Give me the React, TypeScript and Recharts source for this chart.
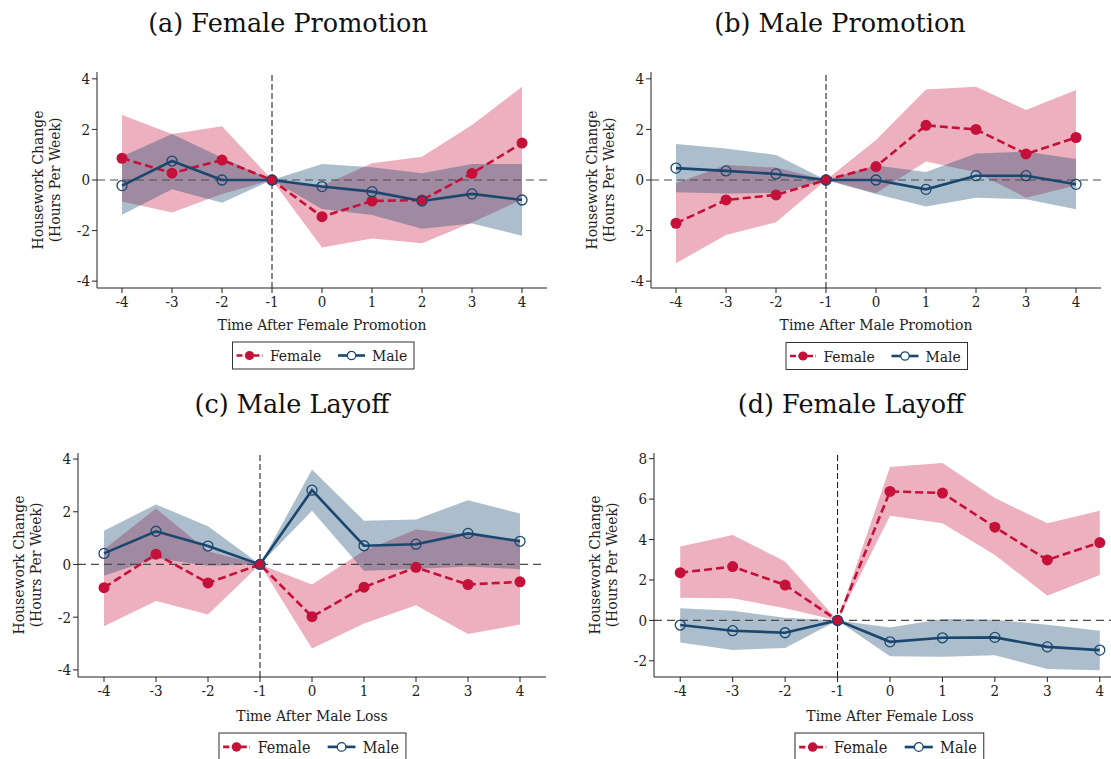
import React from 'react';
import { ComposedChart, Area, Line, XAxis, YAxis, ReferenceLine } from 'recharts';

// Event time (years relative to the event)
const periods = [-4, -3, -2, -1, 0, 1, 2, 3, 4];

// (a) Female Promotion
const aFemale = [0.86, 0.27, 0.79, 0, -1.45, -0.83, -0.79, 0.26, 1.46];
const aFemaleLo = [-0.85, -1.28, -0.55, 0, -2.67, -2.31, -2.5, -1.68, -0.77];
const aFemaleHi = [2.57, 1.82, 2.13, 0, -0.23, 0.66, 0.92, 2.17, 3.69];
const aMale = [-0.22, 0.75, 0, 0, -0.26, -0.46, -0.83, -0.55, -0.79];
const aMaleLo = [-1.37, -0.37, -0.9, 0, -1.15, -1.38, -1.93, -1.72, -2.2];
const aMaleHi = [0.93, 1.82, 0.88, 0, 0.63, 0.5, 0.27, 0.63, 0.63];

// (b) Male Promotion
const bFemale = [-1.71, -0.79, -0.59, 0, 0.53, 2.16, 2.0, 1.03, 1.68];
const bFemaleLo = [-3.29, -2.17, -1.67, 0, -0.52, 0.73, 0.31, -0.7, -0.22];
const bFemaleHi = [-0.13, 0.59, 0.49, 0, 1.58, 3.58, 3.69, 2.77, 3.56];
const bMale = [0.47, 0.36, 0.24, 0, 0, -0.37, 0.17, 0.17, -0.17];
const bMaleLo = [-0.48, -0.53, -0.51, 0, -0.55, -1.05, -0.7, -0.76, -1.16];
const bMaleHi = [1.42, 1.25, 0.99, 0, 0.57, 0.32, 1.05, 1.12, 0.83];

// (c) Male Layoff
const cFemale = [-0.88, 0.39, -0.7, 0, -1.98, -0.86, -0.11, -0.76, -0.66];
const cFemaleLo = [-2.34, -1.39, -1.9, 0, -3.19, -2.24, -1.55, -2.64, -2.28];
const cFemaleHi = [0.58, 2.12, 0.5, 0, -0.76, 0.52, 1.33, 1.12, 0.96];
const cMale = [0.42, 1.26, 0.7, 0, 2.82, 0.71, 0.77, 1.18, 0.88];
const cMaleLo = [-0.43, 0.24, -0.05, 0, 2.04, -0.24, -0.17, -0.08, -0.18];
const cMaleHi = [1.28, 2.28, 1.45, 0, 3.6, 1.66, 1.71, 2.44, 1.93];

// (d) Female Layoff
const dFemale = [2.36, 2.66, 1.75, 0, 6.38, 6.3, 4.61, 2.99, 3.85];
const dFemaleLo = [1.12, 1.09, 0.6, 0, 5.17, 4.81, 3.24, 1.22, 2.25];
const dFemaleHi = [3.65, 4.23, 2.91, 0, 7.59, 7.79, 6.05, 4.81, 5.42];
const dMale = [-0.23, -0.51, -0.61, 0, -1.06, -0.86, -0.84, -1.31, -1.47];
const dMaleLo = [-1.09, -1.47, -1.36, 0, -1.77, -1.8, -1.72, -2.41, -2.46];
const dMaleHi = [0.6, 0.48, 0.13, 0, -0.35, 0.07, 0.03, -0.21, -0.51];

const ticksFour = [-4, -2, 0, 2, 4];
const ticksEight = [-2, 0, 2, 4, 6, 8];

const RED = '#C51039';
const NAVY = '#1A476F';
const INK = '#222222';
const SERIF = '"DejaVu Serif Condensed", "DejaVu Serif", serif';
const TITLE_SERIF = '"DejaVu Serif", serif';
const AXIS_FS = 15.5;
const TICK_FS = 15;

function makeRows(f: number[], fLo: number[], fHi: number[], m: number[], mLo: number[], mHi: number[]) {
  return periods.map((t, i) => ({
    t,
    female: f[i],
    femaleBand: [fLo[i], fHi[i]],
    male: m[i],
    maleBand: [mLo[i], mHi[i]],
  }));
}

type PanelProps = {
  left: number;
  top: number;
  width: number;
  height: number;
  margin: { top: number; right: number; bottom: number; left: number };
  yAxisWidth: number;
  yDomain: number[];
  yTicks: number[];
  xTitle: string;
  xTitleDy: number;
  rows: ReturnType<typeof makeRows>;
};

function Panel(p: PanelProps) {
  const yLabel = (props: any) => {
    const vb = props.viewBox;
    const axisX = vb.x + vb.width;
    const cy = vb.y + vb.height / 2;
    const x1 = axisX - 54.5;
    const x2 = axisX - 37.5;
    return (
      <g>
        <text x={x1} y={cy} transform={`rotate(-90, ${x1}, ${cy})`} textAnchor="middle"
          style={{ fontFamily: SERIF, fontSize: AXIS_FS }} fill={INK}>Housework Change</text>
        <text x={x2} y={cy} transform={`rotate(-90, ${x2}, ${cy})`} textAnchor="middle"
          style={{ fontFamily: SERIF, fontSize: AXIS_FS }} fill={INK}>(Hours Per Week)</text>
      </g>
    );
  };
  const xLabel = (props: any) => {
    const vb = props.viewBox;
    return (
      <text x={vb.x + vb.width / 2} y={vb.y + p.xTitleDy} textAnchor="middle"
        style={{ fontFamily: SERIF, fontSize: AXIS_FS }} fill={INK}>{p.xTitle}</text>
    );
  };
  const tickStyle = { fontSize: TICK_FS, fill: INK, style: { fontFamily: SERIF } };
  return (
    <div style={{ position: 'absolute', left: p.left, top: p.top }}>
      <ComposedChart width={p.width} height={p.height} data={p.rows} margin={p.margin}>
        <XAxis type="number" dataKey="t" domain={[-4.5, 4.5]} ticks={periods} interval={0}
          allowDataOverflow height={50} tickSize={5} tickMargin={3}
          axisLine={{ stroke: INK }} tickLine={{ stroke: INK }}
          tick={tickStyle} label={xLabel} />
        <YAxis type="number" domain={p.yDomain} ticks={p.yTicks} interval={0}
          allowDataOverflow width={p.yAxisWidth} tickSize={5} tickMargin={2}
          axisLine={{ stroke: INK }} tickLine={{ stroke: INK }}
          tick={tickStyle} label={yLabel} />
        <ReferenceLine y={0} stroke="#4a4a4a" strokeDasharray="8 5" strokeWidth={1.2} />
        <ReferenceLine x={-1} stroke="#111" strokeDasharray="6 3" strokeWidth={1} />
        <Area dataKey="femaleBand" type="linear" stroke="none" fill={RED} fillOpacity={0.33}
          isAnimationActive={false} activeDot={false} />
        <Line dataKey="female" type="linear" stroke={RED} strokeWidth={2.6} strokeDasharray="8 4"
          dot={{ r: 5.5, fill: RED, stroke: 'none' }} activeDot={false} isAnimationActive={false} />
        <Area dataKey="maleBand" type="linear" stroke="none" fill={NAVY} fillOpacity={0.36}
          isAnimationActive={false} activeDot={false} />
        <Line dataKey="male" type="linear" stroke={NAVY} strokeWidth={2.6}
          dot={{ r: 5, fill: 'none', stroke: NAVY, strokeWidth: 1.3 }} activeDot={false}
          isAnimationActive={false} />
      </ComposedChart>
    </div>
  );
}

function LegendBox({ x, y, s }: { x: number; y: number; s: number }) {
  return (
    <g transform={`translate(${x}, ${y}) scale(${s})`}>
      <rect x={0} y={0} width={181.5} height={27} fill="#fff" stroke="#333" strokeWidth={1} />
      <line x1={4} x2={30} y1={13.5} y2={13.5} stroke={RED} strokeWidth={2.6} strokeDasharray="6 2.5 0 0" />
      <circle cx={17} cy={13.5} r={4.6} fill={RED} />
      <text x={37.5} y={19} style={{ fontFamily: SERIF, fontSize: 15.5 }} fill={INK}>Female</text>
      <line x1={105.5} x2={132.5} y1={13.5} y2={13.5} stroke={NAVY} strokeWidth={2.6} />
      <circle cx={119} cy={13.5} r={4.2} fill="#fff" stroke={NAVY} strokeWidth={1.2} />
      <text x={139.5} y={19} style={{ fontFamily: SERIF, fontSize: 15.5 }} fill={INK}>Male</text>
    </g>
  );
}

function Title({ cx, y, text }: { cx: number; y: number; text: string }) {
  return (
    <text x={cx} y={y} textAnchor="middle" style={{ fontFamily: TITLE_SERIF, fontSize: 25.5 }}
      fill="#111">{text}</text>
  );
}

export default function App() {
  const rowsA = makeRows(aFemale, aFemaleLo, aFemaleHi, aMale, aMaleLo, aMaleHi);
  const rowsB = makeRows(bFemale, bFemaleLo, bFemaleHi, bMale, bMaleLo, bMaleHi);
  const rowsC = makeRows(cFemale, cFemaleLo, cFemaleHi, cMale, cMaleLo, cMaleHi);
  const rowsD = makeRows(dFemale, dFemaleLo, dFemaleHi, dMale, dMaleLo, dMaleHi);

  return (
    <div style={{ position: 'absolute', left: 0, top: 0, width: 1111, height: 759, overflow: 'hidden', background: '#fff' }}>
      <Panel left={0} top={0} width={560} height={345}
        margin={{ top: 72, right: 13, bottom: 7, left: 0 }} yAxisWidth={97}
        yDomain={[-4.27, 4.27]} yTicks={ticksFour}
        xTitle="Time After Female Promotion" xTitleDy={42} rows={rowsA} />
      <Panel left={555} top={0} width={556} height={345}
        margin={{ top: 72, right: 10, bottom: 7, left: 0 }} yAxisWidth={96}
        yDomain={[-4.27, 4.27]} yTicks={ticksFour}
        xTitle="Time After Male Promotion" xTitleDy={42} rows={rowsB} />
      <Panel left={0} top={380} width={560} height={354}
        margin={{ top: 73, right: 14, bottom: 7, left: 0 }} yAxisWidth={78}
        yDomain={[-4.27, 4.23]} yTicks={ticksFour}
        xTitle="Time After Male Loss" xTitleDy={44} rows={rowsC} />
      <Panel left={555} top={380} width={571} height={354}
        margin={{ top: 73, right: 0, bottom: 7, left: 0 }} yAxisWidth={99}
        yDomain={[-2.8, 8.28]} yTicks={ticksEight}
        xTitle="Time After Female Loss" xTitleDy={44} rows={rowsD} />
      <svg width={1111} height={759} style={{ position: 'absolute', left: 0, top: 0, pointerEvents: 'none' }}>
        <Title cx={288} y={32} text="(a) Female Promotion" />
        <Title cx={840} y={32} text="(b) Male Promotion" />
        <Title cx={292} y={413} text="(c) Male Layoff" />
        <Title cx={851} y={413} text="(d) Female Layoff" />
        <LegendBox x={232.5} y={342} s={1} />
        <LegendBox x={786} y={342.5} s={1} />
        <LegendBox x={219} y={733} s={1.03} />
        <LegendBox x={795} y={733} s={1.04} />
      </svg>
    </div>
  );
}
